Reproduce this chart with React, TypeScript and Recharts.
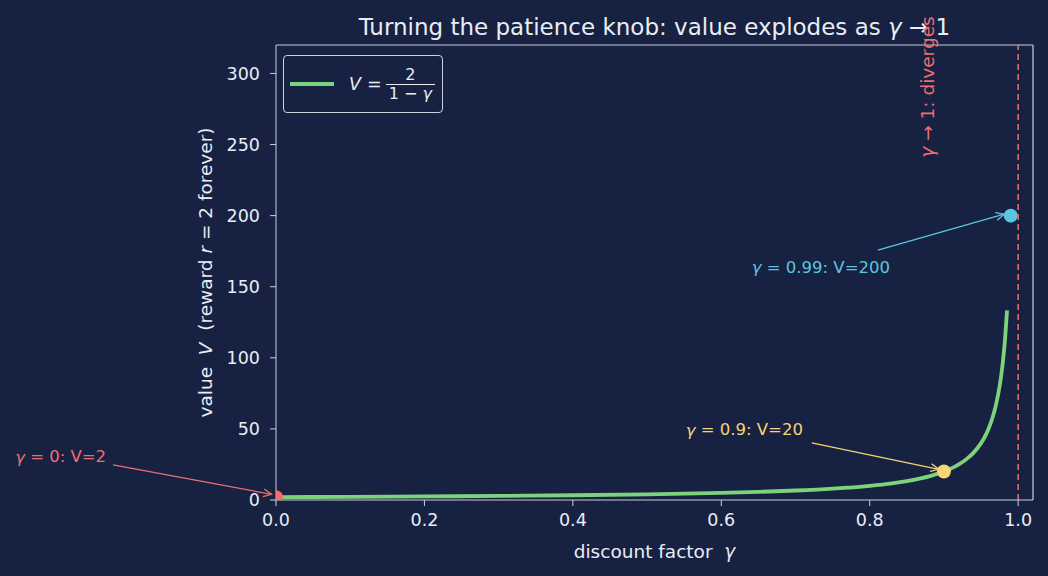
import React from "react";
import {
  ComposedChart,
  Line,
  XAxis,
  YAxis,
  ReferenceLine,
  ReferenceDot,
  Legend,
  Label,
} from "recharts";

// discount factor and value V = 2/(1-gamma)
const gammas = [0, 0.1, 0.2, 0.3, 0.4, 0.5, 0.6, 0.65, 0.7, 0.75, 0.8, 0.83, 0.85, 0.87, 0.88, 0.9, 0.91, 0.92, 0.93, 0.94, 0.95, 0.955, 0.96, 0.965, 0.97, 0.975, 0.978, 0.98, 0.982, 0.985];
const values = [2, 2.22, 2.5, 2.86, 3.33, 4, 5, 5.71, 6.67, 8, 10, 11.76, 13.33, 15.38, 16.67, 20, 22.22, 25, 28.57, 33.33, 40, 44.44, 50, 57.14, 66.67, 80, 90.91, 100, 111.11, 133.33];

const xTicks = [0, 0.2, 0.4, 0.6, 0.8, 1.0];
const yTicks = [0, 50, 100, 150, 200, 250, 300];

const markedGammas = [0, 0.9, 0.99];
const markedValues = [2, 20, 200];

const BG = "#172142";
const FG = "#e9edf4";
const SPINE = "#c9d0de";
const GREEN = "#7ed27c";
const RED = "#f06e6e";
const YELLOW = "#f6d574";
const CYAN = "#5cc6de";
const markColors = [RED, YELLOW, CYAN];

// annotation text anchors and arrows, in data units
const annotations = [
  { label: "0: V=2", color: RED, tx: -0.3515, ty: 30.4, x1: -0.2195, y1: 24.7, x2: -0.006, y2: 4.0 },
  { label: "0.9: V=20", color: YELLOW, tx: 0.552, ty: 49.4, x1: 0.722, y1: 40.2, x2: 0.893, y2: 21.6 },
  { label: "0.99: V=200", color: CYAN, tx: 0.641, ty: 163.8, x1: 0.811, y1: 175.8, x2: 0.981, y2: 201.0 },
];

const curve = gammas.map((g, i) => ({ gamma: g, v: values[i] }));

const FONT = "'DejaVu Sans', sans-serif";
const S2 = "\u00a0\u00a0";

if (typeof document !== "undefined") {
  document.body.style.margin = "0";
  document.body.style.background = BG;
}

function Arrow(props: any) {
  const { x1, y1, x2, y2, color } = props;
  const ang = Math.atan2(y2 - y1, x2 - x1);
  const h = 9;
  const w = 0.45;
  const ax = x2 - h * Math.cos(ang - w);
  const ay = y2 - h * Math.sin(ang - w);
  const bx = x2 - h * Math.cos(ang + w);
  const by = y2 - h * Math.sin(ang + w);
  return (
    <g>
      <line x1={x1} y1={y1} x2={x2} y2={y2} stroke={color} strokeWidth={1.3} />
      <polyline points={`${ax},${ay} ${x2},${y2} ${bx},${by}`} fill="none" stroke={color} strokeWidth={1.3} />
    </g>
  );
}

function AnnText(props: any) {
  const { cx, cy, label, color } = props;
  return (
    <text x={cx} y={cy} fill={color} fontSize={16.5} fontFamily={FONT} dominantBaseline="central">
      <tspan fontStyle="italic">γ</tspan>
      {" = " + label}
    </text>
  );
}

function renderLegend() {
  return (
    <div
      style={{
        width: 160,
        height: 58,
        border: `1.3px solid ${SPINE}`,
        borderRadius: 4,
        background: BG,
        boxSizing: "border-box",
        display: "flex",
        alignItems: "center",
        fontFamily: FONT,
        color: FG,
        fontSize: 17.5,
      }}
    >
      <div style={{ width: 44, height: 3.8, background: GREEN, marginLeft: 6, marginRight: 15, flexShrink: 0 }} />
      <span style={{ fontStyle: "italic" }}>V</span>
      <span style={{ margin: "0 4px 0 6px" }}>=</span>
      <span
        style={{
          display: "inline-flex",
          flexDirection: "column",
          alignItems: "center",
          fontSize: 16,
          lineHeight: "18px",
          marginTop: 1,
        }}
      >
        <span>2</span>
        <span style={{ borderTop: `1.2px solid ${FG}`, padding: "0 3px" }}>
          1 − <span style={{ fontStyle: "italic" }}>γ</span>
        </span>
      </span>
    </div>
  );
}

function YLabel(props: any) {
  const vb = props.viewBox;
  const cx = 205;
  const cy = vb.y + vb.height / 2;
  return (
    <text x={cx} y={cy} fill={FG} fontSize={18.5} fontFamily={FONT} textAnchor="middle" dominantBaseline="central" transform={`rotate(-90 ${cx} ${cy})`}>
      {"value" + S2}
      <tspan fontStyle="italic">V</tspan>
      {S2 + "(reward "}
      <tspan fontStyle="italic">r</tspan>
      {" = 2 forever)"}
    </text>
  );
}

function XLabel(props: any) {
  const vb = props.viewBox;
  const cx = vb.x + vb.width / 2;
  return (
    <text x={cx} y={551} fill={FG} fontSize={18.5} fontFamily={FONT} textAnchor="middle" dominantBaseline="central">
      {"discount factor" + S2}
      <tspan fontStyle="italic">γ</tspan>
    </text>
  );
}

function DivergeLabel(props: any) {
  const vb = props.viewBox;
  const cx = vb.x - 91;
  const cy = 87;
  return (
    <text x={cx} y={cy} fill={RED} fontSize={18.5} fontFamily={FONT} textAnchor="middle" dominantBaseline="central" transform={`rotate(-90 ${cx} ${cy})`}>
      <tspan fontStyle="italic">γ</tspan> → 1: diverges
    </text>
  );
}

export default function App() {
  return (
    <div style={{ width: 1048, height: 576, background: BG, position: "relative" }}>
      <ComposedChart
        width={1048}
        height={576}
        data={curve}
        margin={{ top: 45, right: 15, bottom: 46, left: 216 }}
        style={{ background: BG }}
      >
        <XAxis
          dataKey="gamma"
          type="number"
          domain={[0, 1.02]}
          ticks={xTicks}
          tickFormatter={(v: number) => v.toFixed(1)}
          allowDataOverflow
          height={30}
          stroke={SPINE}
          tickSize={6}
          tickMargin={8}
          tick={{ fill: FG, fontSize: 17.5, fontFamily: FONT }}
        >
          <Label content={XLabel} />
        </XAxis>
        <YAxis
          type="number"
          domain={[0, 320]}
          ticks={yTicks}
          allowDataOverflow
          width={60}
          stroke={SPINE}
          tickSize={6}
          tickMargin={10}
          tick={{ fill: FG, fontSize: 17.5, fontFamily: FONT }}
        >
          <Label content={YLabel} />
        </YAxis>
        <Legend
          content={renderLegend}
          layout="vertical"
          align="center"
          verticalAlign="middle"
          wrapperStyle={{ position: "absolute", left: 283, top: 55, width: 160, height: 58 }}
        />
        <ReferenceLine y={320} stroke={SPINE} strokeWidth={1.2} />
        <ReferenceLine x={1.02} stroke={SPINE} strokeWidth={1.2} />
        <ReferenceLine
          x={1.0}
          stroke={RED}
          strokeWidth={1.5}
          strokeDasharray="6 4"
          label={<DivergeLabel />}
        />
        <Line
          dataKey="v"
          type="monotone"
          stroke={GREEN}
          strokeWidth={3.8}
          dot={false}
          isAnimationActive={false}
          legendType="line"
        />
        {markedGammas.map((g, i) => (
          <ReferenceDot key={"d" + i} x={g} y={markedValues[i]} r={7} fill={markColors[i]} stroke="none" ifOverflow="hidden" />
        ))}
        {annotations.map((a, i) => (
          <ReferenceLine
            key={"a" + i}
            segment={[{ x: a.x1, y: a.y1 }, { x: a.x2, y: a.y2 }]}
            ifOverflow="visible"
            shape={(p: any) => <Arrow x1={p.x1} y1={p.y1} x2={p.x2} y2={p.y2} color={a.color} />}
          />
        ))}
        {annotations.map((a, i) => (
          <ReferenceDot
            key={"t" + i}
            x={a.tx}
            y={a.ty}
            r={0}
            ifOverflow="visible"
            shape={(p: any) => <AnnText cx={p.cx} cy={p.cy} label={a.label} color={a.color} />}
          />
        ))}
        <text x={654.5} y={27} fill={FG} fontSize={23} fontFamily={FONT} textAnchor="middle" dominantBaseline="central">
          Turning the patience knob: value explodes as <tspan fontStyle="italic">γ</tspan> → 1
        </text>
      </ComposedChart>
    </div>
  );
}
